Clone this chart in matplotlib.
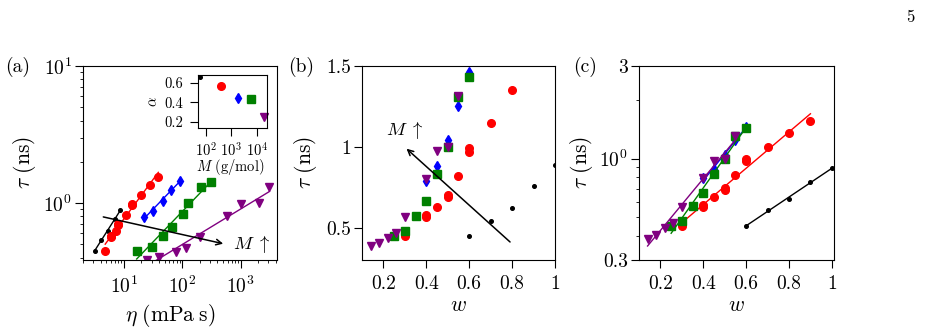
import numpy as np
import matplotlib
matplotlib.use('Agg')
import matplotlib.pyplot as plt
from matplotlib.ticker import LogLocator, FixedLocator, NullFormatter, NullLocator

plt.rcParams['font.family'] = 'cmr10'
plt.rcParams['mathtext.fontset'] = 'cm'
plt.rcParams['axes.formatter.use_mathtext'] = True
plt.rcParams['axes.unicode_minus'] = False

# data: w = weight fraction, tau in ns, eta in mPa s
w_black = [0.6, 0.7, 0.8, 0.9, 1.0]
tau_black = [0.45, 0.54, 0.62, 0.76, 0.89]
eta_black = [3.2, 4.0, 5.4, 7.1, 8.5]

w_red = [0.3, 0.4, 0.4, 0.45, 0.5, 0.5, 0.55, 0.6, 0.6, 0.7, 0.8, 0.9]
tau_red = [0.45, 0.577, 0.565, 0.63, 0.705, 0.69, 0.82, 0.99, 0.97, 1.15, 1.35, 1.56]
eta_red = [4.8, 6.0, 6.0, 7.4, 8.1, 8.1, 11.1, 13.6, 13.6, 20, 28, 39]

w_blue = [0.4, 0.45, 0.5, 0.55, 0.6]
tau_blue = [0.79, 0.88, 1.04, 1.25, 1.46]
eta_blue = [22, 32, 46, 65, 92]

w_green = [0.25, 0.3, 0.35, 0.4, 0.45, 0.5, 0.55, 0.6]
tau_green = [0.447, 0.478, 0.571, 0.668, 0.829, 1.0, 1.309, 1.431]
eta_green = [16.6, 30, 46, 68, 102, 125, 207, 308]

w_purple = [0.14, 0.18, 0.22, 0.26, 0.3, 0.4, 0.45, 0.5, 0.55]
tau_purple = [0.386, 0.406, 0.437, 0.468, 0.565, 0.798, 0.977, 1.0, 1.313]
eta_purple = [24.6, 40.6, 79, 117, 199, 574, 1000, 2070, 3120]

# inset: exponent alpha vs molar mass
M_inset = [58, 390, 1900, 6200, 19500]
alpha_inset = [0.655, 0.57, 0.44, 0.435, 0.25]

series = [
    (w_black, tau_black, eta_black, 'black', 'o', 2.6),
    (w_red, tau_red, eta_red, '#ff0000', 'o', 5.5),
    (w_blue, tau_blue, eta_blue, '#0000ff', 'd', 5.5),
    (w_green, tau_green, eta_green, '#008000', 's', 5.2),
    (w_purple, tau_purple, eta_purple, '#800080', 'v', 5.5),
]

TICK = 14
LAB = 15.5
INS = 10.5

W, H = 937, 332
fig = plt.figure(figsize=(W/100, H/100), dpi=100)

def px_axes(x0, y0, x1, y1):
    return fig.add_axes([x0/W, 1 - y1/H, (x1-x0)/W, (y1-y0)/H])

axa = px_axes(83, 66, 277, 260)
axb = px_axes(362, 66, 555, 260)
axc = px_axes(639, 66, 834, 260)
axi = px_axes(198, 75, 267, 128)

for ax in (axa, axb, axc):
    ax.tick_params(which='major', direction='out', length=5.5, width=0.8, labelsize=TICK)
    ax.tick_params(which='minor', direction='out', length=2.5, width=0.6)
    ax.tick_params(axis='x', pad=5.5)
    ax.tick_params(axis='y', pad=2.5)
    for s in ax.spines.values():
        s.set_linewidth(0.8)

def place_labels(ax, xl, yl, xpos, ypos, size=LAB):
    ax.set_xlabel(xl, fontsize=size)
    ax.set_ylabel(yl, fontsize=size)
    ax.xaxis.label.set_va('center')
    ax.yaxis.label.set_va('center')
    ax.xaxis.set_label_coords(*xpos)
    ax.yaxis.set_label_coords(*ypos)

# (a) tau vs eta, log-log with power-law fits
for w, tau, eta, c, m, ms in series:
    axa.plot(eta, tau, ls='none', marker=m, ms=ms, color=c, mec=c)
    p = np.polyfit(np.log10(eta), np.log10(tau), 1)
    xx = np.array([min(eta), max(eta)])
    axa.plot(xx, 10**np.polyval(p, np.log10(xx)), color=c, lw=1.0)
axa.set_xscale('log')
axa.set_yscale('log')
axa.set_xlim(2, 4200)
axa.set_ylim(0.384, 10)
axa.xaxis.set_major_locator(FixedLocator([10, 100, 1000]))
axa.set_xticklabels([r'$10^{1}$', r'$10^{2}$', r'$10^{3}$'])
axa.xaxis.set_minor_locator(LogLocator(base=10, subs=np.arange(2, 10)))
axa.xaxis.set_minor_formatter(NullFormatter())
axa.yaxis.set_major_locator(FixedLocator([1, 10]))
axa.set_yticklabels([r'$10^{0}$', r'$10^{1}$'])
axa.yaxis.set_minor_locator(LogLocator(base=10, subs=np.arange(2, 10)))
axa.yaxis.set_minor_formatter(NullFormatter())
axa.annotate('', xy=(560, 0.50), xytext=(4.0, 0.80),
             arrowprops=dict(arrowstyle='->', color='black', lw=1.1))
axa.text(740, 0.50, r'$M\;\uparrow$', fontsize=13.5, va='center', ha='left')
place_labels(axa, r'$\eta\ (\mathrm{mPa\;s})$', r'$\tau\ (\mathrm{ns})$', (0.45, -0.285), (-0.30, 0.5))

# inset
for (w, tau, eta, c, m, ms), M, a in zip(series, M_inset, alpha_inset):
    axi.plot([M], [a], ls='none', marker=m, ms=ms, color=c, mec=c, clip_on=False)
axi.set_xscale('log')
axi.set_xlim(48, 25700)
axi.set_ylim(0.135, 0.68)
axi.xaxis.set_major_locator(FixedLocator([100, 1000, 10000]))
axi.set_xticklabels([r'$10^{2}$', r'$10^{3}$', r'$10^{4}$'])
axi.xaxis.set_minor_locator(NullLocator())
axi.yaxis.set_major_locator(FixedLocator([0.2, 0.4, 0.6]))
axi.set_yticklabels(['0.2', '0.4', '0.6'])
axi.tick_params(direction='out', length=5.5, width=0.8, labelsize=INS)
axi.tick_params(axis='x', pad=3.5)
axi.tick_params(axis='y', pad=5)
for s in axi.spines.values():
    s.set_linewidth(0.8)
place_labels(axi, r'$M\ (\mathrm{g/mol})$', r'$\alpha$', (0.46, -0.74), (-0.64, 0.5), size=INS)

# (b) tau vs w, linear
for w, tau, eta, c, m, ms in series:
    axb.plot(w, tau, ls='none', marker=m, ms=ms, color=c, mec=c)
axb.set_xlim(0.1, 1.0)
axb.set_ylim(0.3, 1.5)
axb.xaxis.set_major_locator(FixedLocator([0.2, 0.4, 0.6, 0.8, 1.0]))
axb.set_xticklabels(['0.2', '0.4', '0.6', '0.8', '1'])
axb.yaxis.set_major_locator(FixedLocator([0.5, 1.0, 1.5]))
axb.set_yticklabels(['0.5', '1', '1.5'])
axb.annotate('', xy=(0.298, 1.0), xytext=(0.8, 0.4),
             arrowprops=dict(arrowstyle='->', color='black', lw=1.1))
axb.text(0.3, 1.107, r'$M\;\uparrow$', fontsize=13.5, va='center', ha='center')
place_labels(axb, r'$w$', r'$\tau\ (\mathrm{ns})$', (0.5, -0.232), (-0.295, 0.5))

# (c) tau vs w, semilog with exponential fits
for w, tau, eta, c, m, ms in series:
    axc.plot(w, tau, ls='none', marker=m, ms=ms, color=c, mec=c)
    p = np.polyfit(w, np.log10(tau), 1)
    xx = np.array([min(w), max(w)])
    axc.plot(xx, 10**np.polyval(p, xx), color=c, lw=1.0)
axc.set_yscale('log')
axc.set_xlim(0.1, 1.01)
axc.set_ylim(0.3, 3)
axc.xaxis.set_major_locator(FixedLocator([0.2, 0.4, 0.6, 0.8, 1.0]))
axc.set_xticklabels(['0.2', '0.4', '0.6', '0.8', '1'])
axc.yaxis.set_major_locator(FixedLocator([0.3, 1, 3]))
axc.set_yticklabels(['0.3', r'$10^{0}$', '3'])
axc.yaxis.set_minor_locator(FixedLocator([0.4, 0.5, 0.6, 0.7, 0.8, 0.9, 2]))
axc.yaxis.set_minor_formatter(NullFormatter())
place_labels(axc, r'$w$', r'$\tau\ (\mathrm{ns})$', (0.5, -0.232), (-0.294, 0.5))

fig.text(5/W, 1 - 72/H, '(a)', fontsize=TICK, va='baseline', ha='left')
fig.text(288/W, 1 - 72/H, '(b)', fontsize=TICK, va='baseline', ha='left')
fig.text(573/W, 1 - 72/H, '(c)', fontsize=TICK, va='baseline', ha='left')
fig.text(910/W, 1 - 17/H, '5', fontsize=12, va='center', ha='center')

fig.savefig('out.png', dpi=100)
